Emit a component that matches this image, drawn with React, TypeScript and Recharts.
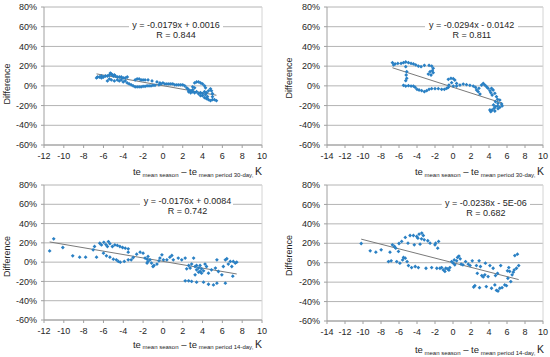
import React from 'react';
import { ScatterChart, Scatter, XAxis, YAxis, CartesianGrid, ReferenceLine } from 'recharts';

const yTicks = [-60, -40, -20, 0, 20, 40, 60, 80];
const xTicksA = [-12, -10, -8, -6, -4, -2, 0, 2, 4, 6, 8, 10];
const xTicksB = [-14, -12, -10, -8, -6, -4, -2, 0, 2, 4, 6, 8, 10];

const slopes = [-0.0179, -0.0294, -0.0176, -0.0238];
const intercepts = [0.0016, -0.0142, 0.0084, -0.000005];
const equations = ['y = -0.0179x + 0.0016', 'y = -0.0294x - 0.0142', 'y = -0.0176x + 0.0084', 'y = -0.0238x - 5E-06'];
const rValues = ['R = 0.844', 'R = 0.811', 'R = 0.742', 'R = 0.682'];
const periods = ['30-day', '30-day', '14-day', '14-day'];

const panel1Points: [number, number][] = [
  [-6.7, 8], [-6.6, 9], [-6.4, 9], [-6.2, 10], [-6.0, 9], [-5.8, 10], [-5.6, 10], [-5.4, 11], [-5.3, 13], [-5.2, 12],
  [-5.1, 11], [-5.0, 10], [-4.9, 11], [-4.8, 10], [-4.6, 9], [-4.4, 9], [-4.2, 9], [-4.0, 8], [-3.8, 8], [-3.6, 9],
  [-6.2, 8], [-5.6, 5], [-5.4, 7], [-5.2, 6], [-4.9, 5], [-4.6, 6], [-4.4, 5], [-4.2, 6], [-4.0, 4],
  [-3.8, 5], [-3.6, 3], [-3.4, 2], [-3.2, 1], [-3.0, 0], [-2.8, -1],
  [-2.6, -1], [-2.4, -1], [-2.2, -1], [-2.0, -0.5], [-1.8, -0.5], [-1.6, 0], [-1.4, 0], [-1.2, 0], [-1.0, 0.5], [-0.8, 0.5],
  [-2.8, 6], [-2.6, 7], [-2.4, 7], [-2.2, 6], [-2.0, 6], [-1.8, 6], [-1.5, 6], [-1.1, 5], [-0.6, 4], [-0.3, 3],
  [-0.4, 1], [-0.2, 2], [0.0, 3], [0.2, 2], [0.4, 2], [0.6, 2], [0.8, 2], [1.0, 2], [1.2, 1], [1.4, 1], [1.6, 1], [1.8, 1], [2.0, 1], [2.2, 0],
  [2.4, -2], [2.5, -3], [2.6, -4], [2.8, -5], [3.0, -4], [3.2, 3], [3.4, 4], [3.6, 4], [3.8, 3], [4.0, 2], [4.2, 0], [4.3, -2],
  [3.0, -6], [3.2, -7], [3.4, -6], [3.6, -8], [3.8, -7], [4.0, -8], [4.2, -6], [4.4, -7], [4.6, -5], [4.8, -3], [4.9, -5], [5.0, -8],
  [2.6, -6], [2.8, -7], [3.0, -1], [3.2, -2], [4.0, -10], [4.2, -12], [4.4, -13], [4.6, -14], [4.8, -15], [5.0, -14],
  [5.2, -14], [5.4, -15], [4.5, -11], [4.3, -9], [3.8, -10], [5.0, -11],
];

const panel2Points: [number, number][] = [
  [-6.73, 23.5], [-6.6, 21.2], [-6.43, 22.2], [-6.13, 22.8], [-5.77, 22.8], [-5.5, 23.5], [-5.25, 24.2], [-4.95, 23.5],
  [-4.66, 22.8], [-4.4, 22.2], [-4.14, 21.2], [-3.85, 20.1], [-3.55, 19.5], [-3.18, 20.8], [-2.66, 20.8], [-2.37, 20.1],
  [-2.2, 17.8], [-2.3, 15.4], [-2.55, 14.4], [-2.74, 12], [-2.44, 11], [-2.2, 13.4],
  [-5.25, 19.5], [-5.14, 14.4], [-5.2, 11], [-5.14, 7.6], [-5.25, 5.3],
  [-5.5, 0.5], [-5.25, -0.2], [-4.95, 0.2], [-4.66, -0.2], [-4.4, -0.2], [-4.2, -1.5], [-4.0, -3.5], [-3.77, -4.2],
  [-3.48, -4.9], [-3.18, -5.9], [-2.92, -4.9], [-2.66, -3.5], [-2.37, -2.9], [-2.0, -2.9], [-1.63, -2.9], [-1.26, -3.5],
  [-0.96, -3.5], [-0.7, -2.5], [-0.52, -1.5], [-0.45, 0.8],
  [-0.52, 6.6], [-0.23, 7.6], [0.03, 7.3], [0.2, 5.9], [0.4, 2.5], [-0.15, 3.2],
  [0.03, -0.2], [0.4, -0.2], [0.77, 0.8], [1.14, 1.8], [1.5, 1.2], [1.88, 0.5], [2.25, -0.2], [2.5, -1.5],
  [2.62, -4.2], [2.8, -5.9], [3.0, -8.3], [2.88, -2.5], [3.17, 0.8], [3.36, 2.5], [3.54, 0.8], [3.73, -0.9], [3.9, -2.5],
  [4.1, -4.9], [4.28, -2.5], [4.46, -4.2], [4.2, -6.9], [4.35, -9.3], [4.65, -7.6], [4.83, -11], [4.95, -13.7],
  [4.72, -16], [5.0, -17.7], [5.2, -14.4], [5.4, -18.4], [5.46, -20.4], [5.2, -21.8], [4.95, -20.4], [4.72, -21.1],
  [4.57, -22.8], [4.35, -24.5], [4.2, -26.2], [4.1, -24.5], [4.5, -19.4], [5.0, -23.1], [4.65, -25.5],
];

const panel3Points: [number, number][] = [
  [-11.43, 11.6], [-11.02, 24.2], [-10.1, 15.2], [-9.1, 6.6], [-8.4, 5.2], [-7.8, 5.2], [-7.04, 12.8], [-6.9, 16.2],
  [-6.7, 5.2], [-6.37, 19.6], [-6.2, 17.9], [-5.96, 20.6], [-5.75, 18.2], [-5.6, 16.2], [-5.5, 21.3], [-5.35, 19.2],
  [-5.1, 16.2], [-4.85, 17.9], [-4.6, 17.3], [-4.34, 16.2], [-4.07, 15.2], [-3.8, 14.5], [-3.5, 13.8], [-3.5, 10.3],
  [-6.0, 9.3], [-5.7, 6.6], [-5.35, 5.2], [-5.0, 3.1], [-4.7, 2.4], [-4.5, 0.7], [-4.3, 0], [-3.9, 0.7], [-3.5, 2.4],
  [-3.2, 2.4], [-3.0, 4.8], [-2.65, 8.3], [-2.3, 10.3], [-2.0, 9.3], [-1.8, 4.2], [-1.6, 3.1], [-1.5, 5.9], [-1.3, 2.4],
  [-1.15, -1], [-1.0, -4.5], [-0.9, -3.5], [-0.6, -2], [-0.4, 1.4], [-0.3, 4.2], [-0.1, 7.6], [0.05, 2.4], [0.4, 2.4],
  [0.7, 5.2], [0.9, 6.9], [1.05, 2.4], [1.55, 4.2], [1.9, 2.4], [2.25, 4.2], [2.4, -6.9], [2.6, -3.5], [2.75, -6.2],
  [2.9, -2], [3.1, 4.2], [3.25, -4.5], [3.4, -8], [3.6, -6.2], [3.75, -9.7], [3.9, -6.9], [4.1, -9], [4.4, -4.5],
  [4.6, -11.4], [4.9, -8], [5.3, -6.2], [5.45, 2.4], [5.6, -9.7], [5.95, -13.2], [6.1, -4.5], [6.3, 2.4], [6.45, 3.5],
  [6.6, -2], [6.8, 0.7], [6.95, -4.5], [7.05, -14.5], [7.1, 0.7], [7.3, -1], [7.45, 0],
  [2.25, -19.4], [2.6, -19.4], [2.9, -20], [3.4, -20.8], [4.1, -20.8], [4.6, -22.9], [5.1, -23.6], [5.45, -21.8], [6.3, -21.8],
  [3.25, -13.2], [3.6, -10.4], [3.9, -11.4], [3.75, -3.5], [4.25, -2], [3.4, -3.5], [-1.6, -1], [-1.5, 0.7],
];

const panel4Points: [number, number][] = [
  [-10.2, 19.8], [-9.2, 12.2], [-8.57, 10.9], [-7.98, 13.3], [-7.17, 1.2], [-6.87, 1.9], [-7.0, 10.9], [-6.73, 18.4],
  [-6.5, 16.7], [-6.36, 15], [-6.25, 1.2], [-6.06, 11.6], [-6.0, 19.8], [-5.9, -0.5], [-5.7, 21.9], [-5.6, 2.9],
  [-5.5, 5.4], [-5.3, 4.7], [-5.3, 26], [-5.1, 1.2], [-5.0, 20.1], [-4.95, -2.9], [-4.77, 28], [-4.6, -5], [-4.4, 28],
  [-4.3, 18.4], [-4.2, -3.9], [-4.03, 27], [-3.85, -5], [-3.9, 25.3], [-3.77, 29.4], [-3.66, 19.1], [-3.5, 24.6],
  [-3.47, 30.5], [-3.3, 28], [-3.2, 23.6], [-3.0, -5.7], [-2.8, 22.6], [-2.55, 20.1], [-2.37, -5], [-2.0, 18.4],
  [-1.93, 20.1], [-1.8, -5.7], [-1.7, 15], [-1.6, 21.9], [-1.45, -5.7], [-1.26, -5], [-1.07, -7.4], [-0.9, -9],
  [-0.8, -5.7], [-0.6, -6.3], [-0.45, -7.7], [-0.35, -5], [-0.15, 1.2], [0.03, -0.5], [0.14, 2.9], [0.2, -2.2],
  [0.4, 1.9], [0.5, 5.4], [0.66, 6.8], [0.8, 4], [0.9, -1.5], [1.1, -2.2], [1.4, 1.2], [1.7, -1.5], [1.9, -2.9],
  [2.14, 1.9], [2.3, -25], [2.43, -23.6], [2.6, -2.9], [2.7, -10.9], [2.9, 1.9], [2.95, -25.7], [3.05, -3.9],
  [3.2, -13.2], [3.36, -14.6], [3.54, -12.5], [3.6, -0.5], [3.7, -24.6], [3.9, -14.3], [4.1, -2.9], [4.28, -26.3],
  [4.46, -5.7], [4.65, -22.9], [4.72, -13.2], [4.83, -28.4], [4.95, -10.9], [5.0, -29.1], [5.2, -26.3], [5.3, -2.9],
  [5.45, -25.7], [5.75, -22.9], [5.94, -23.6], [6.05, -8.3], [6.2, -5], [6.3, -9], [6.42, -19.4], [6.57, -12.5],
  [6.7, -9.7], [6.8, -7.4], [6.87, 7.4], [7.05, -5.7], [7.16, 8.8], [7.3, -2.9], [6.1, -16],
];

const allPoints = [panel1Points, panel2Points, panel3Points, panel4Points];

const FONT = '"Liberation Sans", Arial, sans-serif';
const TEXT = '#262626';
const BLUE = '#2a80c4';

type Layout = {
  left: number; top: number; width: number; height: number;
  margin: { top: number; right: number; bottom: number; left: number };
  yAxisWidth: number;
  xTicks: number[];
  box: [number, number, number, number];
  eqX: number; eqY: number; rY: number;
  diffX: number; diffY: number;
  xlX: number; xlY: number;
};

const layouts: Layout[] = [
  { left: 0, top: 0, width: 275, height: 178, margin: { top: 7, right: 13, bottom: 3, left: 0 }, yAxisWidth: 44, xTicks: xTicksA,
    box: [129, 19, 94, 21], eqX: 176, eqY: 28, rY: 37.5, diffX: 10, diffY: 84, xlX: 262, xlY: 175 },
  { left: 275, top: 0, width: 275, height: 178, margin: { top: 7, right: 7, bottom: 3, left: 0 }, yAxisWidth: 52, xTicks: xTicksB,
    box: [150, 19, 93, 21], eqX: 196.7, eqY: 28, rY: 37.5, diffX: 17, diffY: 78, xlX: 269, xlY: 175 },
  { left: 0, top: 178, width: 275, height: 179, margin: { top: 7, right: 13, bottom: 7, left: 0 }, yAxisWidth: 44, xTicks: xTicksA,
    box: [140, 17, 93, 21], eqX: 187.5, eqY: 26, rY: 35.5, diffX: 10, diffY: 78.5, xlX: 262, xlY: 169.5 },
  { left: 275, top: 178, width: 275, height: 179, margin: { top: 7, right: 7, bottom: 6, left: 0 }, yAxisWidth: 52, xTicks: xTicksB,
    box: [166.7, 19, 88.3, 21], eqX: 210.8, eqY: 28, rY: 37.5, diffX: 17, diffY: 77.5, xlX: 269, xlY: 175 },
];

const Diamond = (props: any) => {
  const { cx, cy } = props;
  if (cx == null || cy == null) return <g />;
  const s = 1.9;
  return <path d={`M${cx},${cy - s}L${cx + s},${cy}L${cx},${cy + s}L${cx - s},${cy}Z`} fill={BLUE} />;
};

const Annot = (props: any) => {
  const { lay, idx } = props as { lay: Layout; idx: number };
  return (
    <g fontFamily={FONT}>
      <rect x={lay.box[0]} y={lay.box[1]} width={lay.box[2]} height={lay.box[3]} fill="#ffffff" />
      <text x={lay.eqX} y={lay.eqY} textAnchor="middle" fontSize={9} fill={TEXT}>{equations[idx]}</text>
      <text x={lay.eqX} y={lay.rY} textAnchor="middle" fontSize={9} fill={TEXT}>{rValues[idx]}</text>
      <text transform={`translate(${lay.diffX},${lay.diffY}) rotate(-90)`} textAnchor="middle" fontSize={9} fill={TEXT}>Difference</text>
      <text x={lay.xlX} y={lay.xlY} textAnchor="end" fontSize={9.5} fill={TEXT}>
        <tspan fill={TEXT}>te</tspan>
        <tspan fontSize={6} dy={1.5} fill={TEXT}> mean season</tspan>
        <tspan dy={-1.5} fill={TEXT}> – te</tspan>
        <tspan fontSize={6} dy={1.5} fill={TEXT}> mean period {periods[idx]}, </tspan>
        <tspan fontSize={10.5} dy={-1.5} fill={TEXT}>K</tspan>
      </text>
    </g>
  );
};

const Panel = ({ idx }: { idx: number }) => {
  const lay = layouts[idx];
  const pts = allPoints[idx].map(([x, y]) => ({ x, y }));
  const xs = allPoints[idx].map((p) => p[0]);
  const xMin = Math.min(...xs);
  const xMax = Math.max(...xs);
  const trendY = (x: number) => 100 * (slopes[idx] * x + intercepts[idx]);
  const xDomain: [number, number] = [lay.xTicks[0], lay.xTicks[lay.xTicks.length - 1]];
  return (
    <div style={{ position: 'absolute', left: lay.left, top: lay.top, width: lay.width, height: lay.height }}>
      <ScatterChart width={lay.width} height={lay.height} margin={lay.margin}>
        <CartesianGrid vertical={false} stroke="#b4b4b4" strokeWidth={1} />
        <XAxis
          type="number"
          dataKey="x"
          domain={xDomain}
          ticks={lay.xTicks}
          interval={0}
          height={30}
          tickSize={3}
          tickMargin={4.5}
          axisLine={{ stroke: '#a0a0a0' }}
          tickLine={{ stroke: '#a0a0a0' }}
          tick={{ fontSize: 9, fill: TEXT, fontFamily: FONT }}
          allowDataOverflow
          label={<Annot lay={lay} idx={idx} />}
        />
        <YAxis
          type="number"
          dataKey="y"
          domain={[-60, 80]}
          ticks={yTicks}
          interval={0}
          width={lay.yAxisWidth}
          tickSize={3}
          tickMargin={4}
          axisLine={{ stroke: '#a0a0a0' }}
          tickLine={{ stroke: '#a0a0a0' }}
          tick={{ fontSize: 9, fill: TEXT, fontFamily: FONT }}
          tickFormatter={(v: number) => `${v}%`}
          allowDataOverflow
        />
        <ReferenceLine x={xDomain[1]} stroke="#d4d4d4" strokeWidth={1} />
        <Scatter data={pts} shape={<Diamond />} isAnimationActive={false} />
        <ReferenceLine
          segment={[{ x: xMin, y: trendY(xMin) }, { x: xMax, y: trendY(xMax) }]}
          stroke="#7a7a7a"
          strokeWidth={1}
        />
      </ScatterChart>
    </div>
  );
};

export default function App() {
  return (
    <div style={{ position: 'absolute', left: 0, top: 0, width: 550, height: 357, background: '#ffffff' }}>
      {[0, 1, 2, 3].map((i) => (
        <Panel key={i} idx={i} />
      ))}
    </div>
  );
}
